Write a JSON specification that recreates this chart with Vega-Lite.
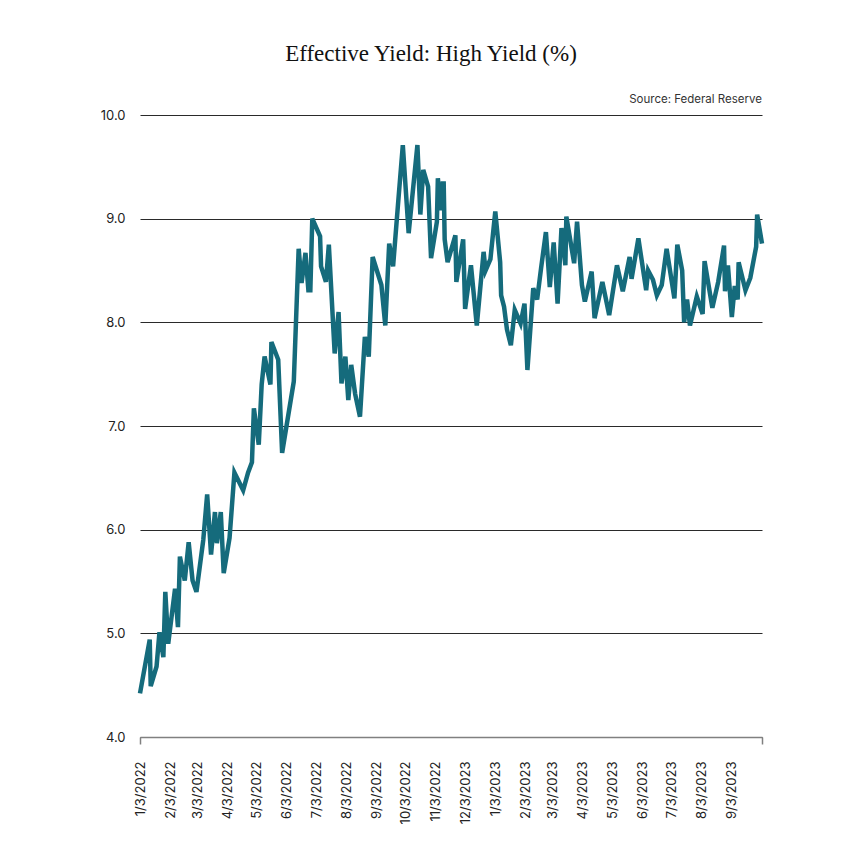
{
  "$schema": "https://vega.github.io/schema/vega-lite/v6.json",
  "width": 622,
  "height": 622,
  "autosize": {"type": "none"},
  "padding": {"left": 140, "top": 115, "right": 98, "bottom": 123},
  "background": "#ffffff",
  "title": {
    "text": "Effective Yield: High Yield (%)",
    "font": "Liberation Serif",
    "fontSize": 23,
    "fontWeight": "normal",
    "color": "#111111",
    "anchor": "middle",
    "dx": -20,
    "offset": 28
  },
  "config": {
    "view": {"stroke": null},
    "axis": {"labelFont": "Inter", "labelFontSize": 13, "labelColor": "#222222"},
    "axisX": {"labelOverlap": false, "labelFlush": false, "labelBound": false, "labelSeparation": 0}
  },
  "encoding": {
    "x": {
      "type": "temporal",
      "scale": {
        "type": "utc",
        "domain": [
          {"year": 2022, "month": 1, "date": 3, "utc": true},
          {"year": 2023, "month": 10, "date": 4, "utc": true}
        ]
      },
      "axis": {
        "title": null,
        "grid": false,
        "domain": true,
        "domainColor": "#808080",
        "domainWidth": 1.5,
        "ticks": true,
        "tickSize": 7,
        "tickColor": "#808080",
        "tickWidth": 1.5,
        "tickOpacity": {
          "condition": {"test": "utcdate(datum.value) != 3 || (utcyear(datum.value) == 2022 && utcmonth(datum.value) == 0)", "value": 1},
          "value": 0
        },
        "values": [
          {"year": 2022, "month": 1, "date": 3, "utc": true},
          {"year": 2022, "month": 2, "date": 3, "utc": true},
          {"year": 2022, "month": 3, "date": 3, "utc": true},
          {"year": 2022, "month": 4, "date": 3, "utc": true},
          {"year": 2022, "month": 5, "date": 3, "utc": true},
          {"year": 2022, "month": 6, "date": 3, "utc": true},
          {"year": 2022, "month": 7, "date": 3, "utc": true},
          {"year": 2022, "month": 8, "date": 3, "utc": true},
          {"year": 2022, "month": 9, "date": 3, "utc": true},
          {"year": 2022, "month": 10, "date": 3, "utc": true},
          {"year": 2022, "month": 11, "date": 3, "utc": true},
          {"year": 2022, "month": 12, "date": 3, "utc": true},
          {"year": 2023, "month": 1, "date": 3, "utc": true},
          {"year": 2023, "month": 2, "date": 3, "utc": true},
          {"year": 2023, "month": 3, "date": 3, "utc": true},
          {"year": 2023, "month": 4, "date": 3, "utc": true},
          {"year": 2023, "month": 5, "date": 3, "utc": true},
          {"year": 2023, "month": 6, "date": 3, "utc": true},
          {"year": 2023, "month": 7, "date": 3, "utc": true},
          {"year": 2023, "month": 8, "date": 3, "utc": true},
          {"year": 2023, "month": 9, "date": 3, "utc": true},
          {"year": 2023, "month": 10, "date": 4, "utc": true}
        ],
        "labelExpr": "utcdate(datum.value) != 3 ? '' : (utcyear(datum.value) == 2022 && utcmonth(datum.value) == 11 ? '12/3/2023' : utcFormat(datum.value, '%-m/%-d/%Y'))",
        "labelAngle": -90,
        "labelPadding": 17,
        "labelOverlap": false,
        "labelFlush": false,
        "labelBound": false,
        "labelSeparation": 0
      }
    },
    "y": {
      "type": "quantitative",
      "scale": {"domain": [4, 10], "nice": false, "zero": false},
      "axis": {
        "title": null,
        "values": [4, 5, 6, 7, 8, 9, 10],
        "format": ".1f",
        "domain": false,
        "ticks": false,
        "grid": true,
        "gridColor": "#2a2a2a",
        "gridWidth": 1,
        "labelPadding": 15
      }
    }
  },
  "layer": [
    {
      "data": {
        "values": [
          {"date": "2022-01-03", "value": 4.42},
          {"date": "2022-01-13", "value": 4.94},
          {"date": "2022-01-14", "value": 4.49},
          {"date": "2022-01-20", "value": 4.68},
          {"date": "2022-01-23", "value": 5.01},
          {"date": "2022-01-27", "value": 4.77},
          {"date": "2022-01-29", "value": 5.40},
          {"date": "2022-02-01", "value": 4.90},
          {"date": "2022-02-08", "value": 5.43},
          {"date": "2022-02-11", "value": 5.06},
          {"date": "2022-02-13", "value": 5.74},
          {"date": "2022-02-18", "value": 5.51},
          {"date": "2022-02-22", "value": 5.88},
          {"date": "2022-02-26", "value": 5.51},
          {"date": "2022-03-02", "value": 5.40},
          {"date": "2022-03-09", "value": 5.90},
          {"date": "2022-03-13", "value": 6.34},
          {"date": "2022-03-17", "value": 5.76},
          {"date": "2022-03-21", "value": 6.17},
          {"date": "2022-03-23", "value": 5.87},
          {"date": "2022-03-27", "value": 6.17},
          {"date": "2022-03-30", "value": 5.58},
          {"date": "2022-04-05", "value": 5.92},
          {"date": "2022-04-10", "value": 6.55},
          {"date": "2022-04-19", "value": 6.38},
          {"date": "2022-04-24", "value": 6.55},
          {"date": "2022-04-28", "value": 6.65},
          {"date": "2022-04-30", "value": 7.17},
          {"date": "2022-05-05", "value": 6.82},
          {"date": "2022-05-08", "value": 7.40},
          {"date": "2022-05-11", "value": 7.67},
          {"date": "2022-05-17", "value": 7.40},
          {"date": "2022-05-18", "value": 7.81},
          {"date": "2022-05-25", "value": 7.64},
          {"date": "2022-05-29", "value": 6.74},
          {"date": "2022-06-10", "value": 7.43},
          {"date": "2022-06-15", "value": 8.71},
          {"date": "2022-06-18", "value": 8.38},
          {"date": "2022-06-22", "value": 8.67},
          {"date": "2022-06-25", "value": 8.31},
          {"date": "2022-06-27", "value": 8.31},
          {"date": "2022-06-29", "value": 9.00},
          {"date": "2022-07-07", "value": 8.83},
          {"date": "2022-07-08", "value": 8.54},
          {"date": "2022-07-13", "value": 8.39},
          {"date": "2022-07-16", "value": 8.75},
          {"date": "2022-07-22", "value": 7.70},
          {"date": "2022-07-26", "value": 8.10},
          {"date": "2022-07-29", "value": 7.41},
          {"date": "2022-08-02", "value": 7.67},
          {"date": "2022-08-05", "value": 7.25},
          {"date": "2022-08-08", "value": 7.59},
          {"date": "2022-08-12", "value": 7.31},
          {"date": "2022-08-17", "value": 7.09},
          {"date": "2022-08-22", "value": 7.86},
          {"date": "2022-08-26", "value": 7.67},
          {"date": "2022-08-30", "value": 8.63},
          {"date": "2022-09-08", "value": 8.36},
          {"date": "2022-09-12", "value": 7.97},
          {"date": "2022-09-16", "value": 8.76},
          {"date": "2022-09-20", "value": 8.54},
          {"date": "2022-09-25", "value": 9.13},
          {"date": "2022-09-30", "value": 9.71},
          {"date": "2022-10-06", "value": 8.86},
          {"date": "2022-10-15", "value": 9.71},
          {"date": "2022-10-18", "value": 9.04},
          {"date": "2022-10-21", "value": 9.47},
          {"date": "2022-10-26", "value": 9.31},
          {"date": "2022-10-29", "value": 8.62},
          {"date": "2022-11-04", "value": 8.97},
          {"date": "2022-11-05", "value": 9.39},
          {"date": "2022-11-08", "value": 9.08},
          {"date": "2022-11-10", "value": 9.34},
          {"date": "2022-11-11", "value": 9.34},
          {"date": "2022-11-12", "value": 8.80},
          {"date": "2022-11-15", "value": 8.58},
          {"date": "2022-11-23", "value": 8.84},
          {"date": "2022-11-24", "value": 8.39},
          {"date": "2022-12-01", "value": 8.80},
          {"date": "2022-12-03", "value": 8.13},
          {"date": "2022-12-09", "value": 8.55},
          {"date": "2022-12-15", "value": 7.97},
          {"date": "2022-12-22", "value": 8.68},
          {"date": "2022-12-24", "value": 8.50},
          {"date": "2022-12-29", "value": 8.61},
          {"date": "2023-01-03", "value": 9.07},
          {"date": "2023-01-08", "value": 8.58},
          {"date": "2023-01-09", "value": 8.26},
          {"date": "2023-01-12", "value": 8.15},
          {"date": "2023-01-15", "value": 7.93},
          {"date": "2023-01-19", "value": 7.78},
          {"date": "2023-01-23", "value": 8.12},
          {"date": "2023-01-29", "value": 7.99},
          {"date": "2023-02-02", "value": 8.18},
          {"date": "2023-02-05", "value": 7.54},
          {"date": "2023-02-11", "value": 8.33},
          {"date": "2023-02-15", "value": 8.22},
          {"date": "2023-02-19", "value": 8.52},
          {"date": "2023-02-24", "value": 8.87},
          {"date": "2023-02-28", "value": 8.34},
          {"date": "2023-03-04", "value": 8.77},
          {"date": "2023-03-08", "value": 8.18},
          {"date": "2023-03-12", "value": 8.91},
          {"date": "2023-03-16", "value": 8.55},
          {"date": "2023-03-17", "value": 9.02},
          {"date": "2023-03-25", "value": 8.57},
          {"date": "2023-03-28", "value": 8.97},
          {"date": "2023-04-02", "value": 8.36},
          {"date": "2023-04-05", "value": 8.20},
          {"date": "2023-04-12", "value": 8.49},
          {"date": "2023-04-15", "value": 8.04},
          {"date": "2023-04-23", "value": 8.39},
          {"date": "2023-04-30", "value": 8.07},
          {"date": "2023-05-08", "value": 8.55},
          {"date": "2023-05-14", "value": 8.30},
          {"date": "2023-05-21", "value": 8.63},
          {"date": "2023-05-23", "value": 8.42},
          {"date": "2023-05-30", "value": 8.81},
          {"date": "2023-06-07", "value": 8.31},
          {"date": "2023-06-09", "value": 8.50},
          {"date": "2023-06-14", "value": 8.41},
          {"date": "2023-06-18", "value": 8.26},
          {"date": "2023-06-23", "value": 8.36},
          {"date": "2023-06-28", "value": 8.71},
          {"date": "2023-07-06", "value": 8.23},
          {"date": "2023-07-09", "value": 8.75},
          {"date": "2023-07-14", "value": 8.50},
          {"date": "2023-07-16", "value": 8.00},
          {"date": "2023-07-19", "value": 8.22},
          {"date": "2023-07-22", "value": 7.97},
          {"date": "2023-07-29", "value": 8.25},
          {"date": "2023-08-04", "value": 8.08},
          {"date": "2023-08-06", "value": 8.59},
          {"date": "2023-08-14", "value": 8.14},
          {"date": "2023-08-20", "value": 8.39},
          {"date": "2023-08-26", "value": 8.74},
          {"date": "2023-08-27", "value": 8.30},
          {"date": "2023-08-30", "value": 8.55},
          {"date": "2023-09-03", "value": 8.05},
          {"date": "2023-09-06", "value": 8.35},
          {"date": "2023-09-09", "value": 8.22},
          {"date": "2023-09-10", "value": 8.58},
          {"date": "2023-09-17", "value": 8.31},
          {"date": "2023-09-22", "value": 8.43},
          {"date": "2023-09-28", "value": 8.73},
          {"date": "2023-09-29", "value": 9.04},
          {"date": "2023-10-04", "value": 8.76}
        ],
        "format": {"parse": {"date": "utc:'%Y-%m-%d'"}}
      },
      "mark": {"type": "line", "color": "#156b7c", "strokeWidth": 4.5, "strokeJoin": "miter", "strokeMiterLimit": 4, "clip": false},
      "encoding": {
        "x": {"field": "date"},
        "y": {"field": "value"}
      }
    },
    {
      "data": {"values": [{"label": "Source: Federal Reserve", "date": "2023-10-04", "value": 10}], "format": {"parse": {"date": "utc:'%Y-%m-%d'"}}},
      "mark": {"type": "text", "align": "right", "baseline": "alphabetic", "dy": -12, "font": "Inter", "fontSize": 11.5, "color": "#333333"},
      "encoding": {
        "x": {"field": "date"},
        "y": {"field": "value"},
        "text": {"field": "label"}
      }
    }
  ]
}
